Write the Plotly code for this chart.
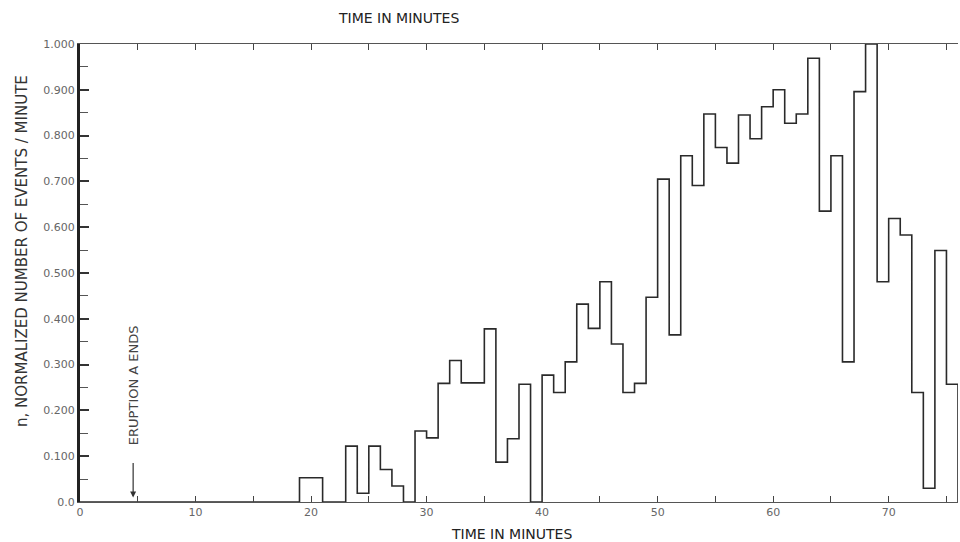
import plotly.graph_objects as go

# Bin start times (minutes) and normalized event rates (one-minute bins)
minutes = list(range(0, 76))
rates = [0.0] * 19 + [
    0.053, 0.053, 0.0, 0.0, 0.122, 0.019, 0.122, 0.071, 0.035, 0.0,   # 19-28
    0.155, 0.140, 0.259, 0.309, 0.260, 0.260, 0.378, 0.087, 0.138, 0.257,  # 29-38
    0.0, 0.277, 0.239, 0.306, 0.432, 0.379, 0.481, 0.345, 0.239, 0.259,   # 39-48
    0.447, 0.705, 0.365, 0.756, 0.691, 0.847, 0.774, 0.740, 0.845, 0.793,  # 49-58
    0.863, 0.900, 0.827, 0.847, 0.969, 0.635, 0.756, 0.306, 0.896, 1.000,  # 59-68
    0.481, 0.619, 0.583, 0.239, 0.030, 0.549, 0.257,                      # 69-75
]
end_minute = 76

x_tickvals = list(range(0, 80, 5))
x_ticktext = [str(v) if v % 10 == 0 else "" for v in x_tickvals]
y_tickvals = [0.0, 0.1, 0.2, 0.3, 0.4, 0.5, 0.6, 0.7, 0.8, 0.9, 1.0]
y_ticktext = ["0.0", "0.100", "0.200", "0.300", "0.400", "0.500",
              "0.600", "0.700", "0.800", "0.900", "1.000"]

xs = minutes + [end_minute]
ys = rates + [0.0]

fig = go.Figure()
fig.add_trace(go.Scatter(
    x=xs, y=ys, mode="lines", line=dict(shape="hv", color="#2a2a2a", width=1.6),
    showlegend=False, hoverinfo="skip", cliponaxis=False,
))

font_fam = "DejaVu Sans, Arial, sans-serif"
fig.update_layout(
    width=960, height=542,
    margin=dict(l=80, r=2, t=44, b=40),
    paper_bgcolor="white", plot_bgcolor="white",
    font=dict(family=font_fam, color="#333"),
    xaxis=dict(
        range=[0, 76], tickvals=x_tickvals, ticktext=x_ticktext,
        ticks="inside", ticklen=6, tickwidth=1, tickcolor="#444",
        showline=True, linecolor="#555", linewidth=1, mirror="ticks",
        showgrid=False, zeroline=False,
        tickfont=dict(size=11, color="#666"),
    ),
    yaxis=dict(
        range=[0, 1.0], tickvals=y_tickvals, ticktext=y_ticktext,
        ticks="inside", ticklen=9, tickwidth=1.5, tickcolor="#333",
        minor=dict(dtick=0.05, ticks="inside", ticklen=8, tickcolor="#555", tickwidth=1),
        showline=True, linecolor="#222", linewidth=3,
        showgrid=False, zeroline=False,
        tickfont=dict(size=11, color="#666"),
    ),
    annotations=[
        dict(text="TIME IN MINUTES", xref="paper", yref="paper", x=(398 - 80) / 878, y=1.0,
             yshift=26, xanchor="center", yanchor="middle", showarrow=False,
             font=dict(size=14, color="#222")),
        dict(text="TIME IN MINUTES", xref="paper", yref="paper", x=(511 - 80) / 878, y=0,
             yshift=-32, xanchor="center", yanchor="middle", showarrow=False,
             font=dict(size=14, color="#222")),
        dict(text="n, NORMALIZED NUMBER OF EVENTS / MINUTE", xref="paper", yref="paper",
             x=0, xshift=-58, y=(502 - 251) / 458, xanchor="center", yanchor="middle",
             textangle=-90, showarrow=False, font=dict(size=15, color="#333")),
        dict(text="ERUPTION A ENDS", xref="x", yref="y", x=4.6, y=(502 - 385) / 458,
             xanchor="center", yanchor="middle",
             textangle=-90, showarrow=False, font=dict(size=13, color="#444")),
        dict(text="", xref="x", yref="y", x=4.6, y=0.01, ax=0, ay=-36,
             showarrow=True, arrowhead=2, arrowsize=1, arrowwidth=1.2, arrowcolor="#333"),
    ],
)

fig.write_html(
    "out.html",
    config={"displayModeBar": False},
    post_script="document.body.style.margin='0';document.body.style.overflow='hidden';",
)
